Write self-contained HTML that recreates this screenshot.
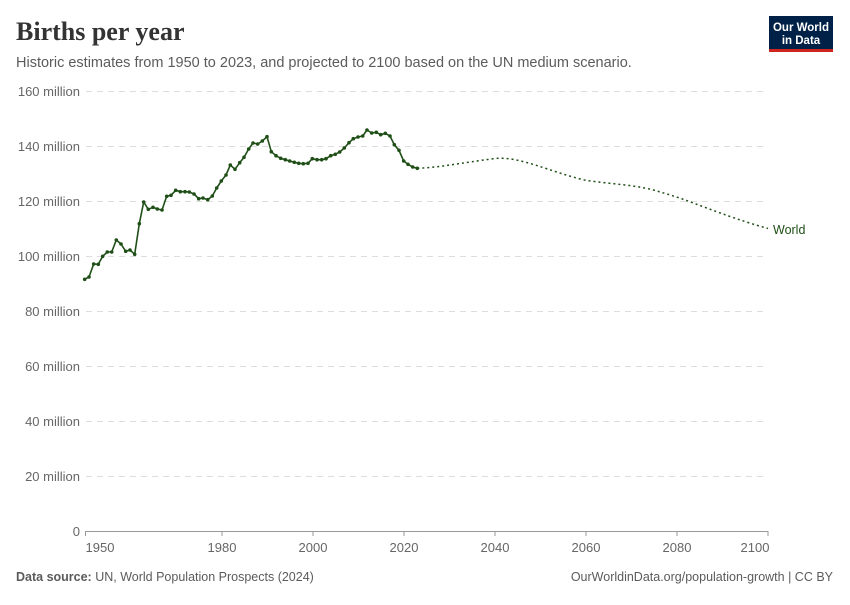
<!DOCTYPE html>
<html><head><meta charset="utf-8"><style>
body{margin:0;background:#fff;width:850px;height:600px;overflow:hidden;font-family:"Liberation Sans",sans-serif}
</style></head><body>
<svg width="850" height="600" xmlns="http://www.w3.org/2000/svg" font-family="Liberation Sans, sans-serif">
<text x="16" y="40" font-family="Liberation Serif, serif" font-size="26" font-weight="bold" fill="#333">Births per year</text>
<text x="16" y="67" font-size="14.5" fill="#5b5b5b">Historic estimates from 1950 to 2023, and projected to 2100 based on the UN medium scenario.</text>
<rect x="769" y="16" width="64" height="34" fill="#002147"/>
<rect x="769" y="49" width="64" height="3" fill="#ce261e"/>
<text x="801" y="31" font-size="11.5" font-weight="bold" fill="#fff" text-anchor="middle">Our World</text>
<text x="801" y="44" font-size="11.5" font-weight="bold" fill="#fff" text-anchor="middle">in Data</text>
<g stroke="#ddd" stroke-dasharray="6,5" stroke-width="1">
<line x1="86" x2="768" y1="91.5" y2="91.5"/><line x1="86" x2="768" y1="146.5" y2="146.5"/><line x1="86" x2="768" y1="201.5" y2="201.5"/><line x1="86" x2="768" y1="256.5" y2="256.5"/><line x1="86" x2="768" y1="311.5" y2="311.5"/><line x1="86" x2="768" y1="366.5" y2="366.5"/><line x1="86" x2="768" y1="421.5" y2="421.5"/><line x1="86" x2="768" y1="476.5" y2="476.5"/>
</g>
<g font-size="13" fill="#666" text-anchor="end">
<text x="80" y="96">160 million</text><text x="80" y="151">140 million</text><text x="80" y="206">120 million</text><text x="80" y="261">100 million</text><text x="80" y="316">80 million</text><text x="80" y="371">60 million</text><text x="80" y="426">40 million</text><text x="80" y="481">20 million</text><text x="80" y="536">0</text>
</g>
<line x1="85.5" x2="768" y1="531.5" y2="531.5" stroke="#999"/>
<g stroke="#999"><line x1="85.5" x2="85.5" y1="531" y2="536"/><line x1="222" x2="222" y1="531" y2="536"/><line x1="313" x2="313" y1="531" y2="536"/><line x1="404" x2="404" y1="531" y2="536"/><line x1="495" x2="495" y1="531" y2="536"/><line x1="586" x2="586" y1="531" y2="536"/><line x1="677" x2="677" y1="531" y2="536"/><line x1="768" x2="768" y1="531" y2="536"/></g>
<g font-size="13" fill="#666" text-anchor="middle">
<text x="100" y="552">1950</text><text x="222" y="552">1980</text><text x="313" y="552">2000</text><text x="404" y="552">2020</text><text x="495" y="552">2040</text><text x="586" y="552">2060</text><text x="677" y="552">2080</text><text x="755" y="552">2100</text>
</g>
<polyline id="hist" fill="none" stroke="#1f4f17" stroke-width="1.6" stroke-linejoin="round" points="84.7,279.3 89,277 93.7,264 98.3,264.3 102.7,256.3 107.3,252 111.7,252 116.3,240 121,244 125.7,251.3 130,250 134.7,254.3 139.3,223.7 143.7,202 148.3,209.3 153,207.3 157.3,209 162,210 166.7,196.3 171,195.3 175.7,190.3 180.3,191.7 185,191.7 189.3,192 194,194 198.7,198.7 203,198 207.7,199.7 212.3,196 216.7,188 221.3,181 226,175 230.3,165 235,169.3 239.7,162.7 244,157.3 248.7,149 253,143 257.7,144 262.3,141 267,136.7 271.3,151.7 276,155.7 280.7,158.3 285.3,159.7 289.7,161 294.3,162.3 298.7,163.3 303.3,163.7 308,163.3 312.3,158.7 317,159.7 321.7,159.7 326,158.7 330.7,155.7 335.3,154.3 339.7,152 344.3,148 349,142.7 353.3,138.7 358,137 362.7,136 367,130 371.7,133 376.3,132.3 380.7,134.7 385.3,133.3 390,136 394.3,144.7 399,150.3 403.7,161 408,164.3 412.7,167 417.3,168.3"/>
<g fill="#1f4f17" id="dots"></g>
<path d="M417.3,168.3 C440,167.5 460,163 495,158.5 C520,156 550,172 586,180.4 C610,184 640,185 660,192 C690,200 720,215 768,228.5" fill="none" stroke="#1f4f17" stroke-width="1.5" stroke-dasharray="2,3"/>
<text x="773" y="234" font-size="12.5" fill="#1f4f17">World</text>
<text x="16" y="581" font-size="12.5" fill="#5b5b5b"><tspan font-weight="bold">Data source:</tspan> UN, World Population Prospects (2024)</text>
<text x="833" y="581" font-size="12.5" fill="#5b5b5b" text-anchor="end">OurWorldinData.org/population-growth | CC BY</text>
<script>
var p=document.getElementById('hist').getAttribute('points').trim().split(/\s+/),g=document.getElementById('dots');
p.forEach(function(s){var a=s.split(',');var c=document.createElementNS('http://www.w3.org/2000/svg','circle');c.setAttribute('cx',a[0]);c.setAttribute('cy',a[1]);c.setAttribute('r','1.8');g.appendChild(c);});
</script>
</svg>
</body></html>
